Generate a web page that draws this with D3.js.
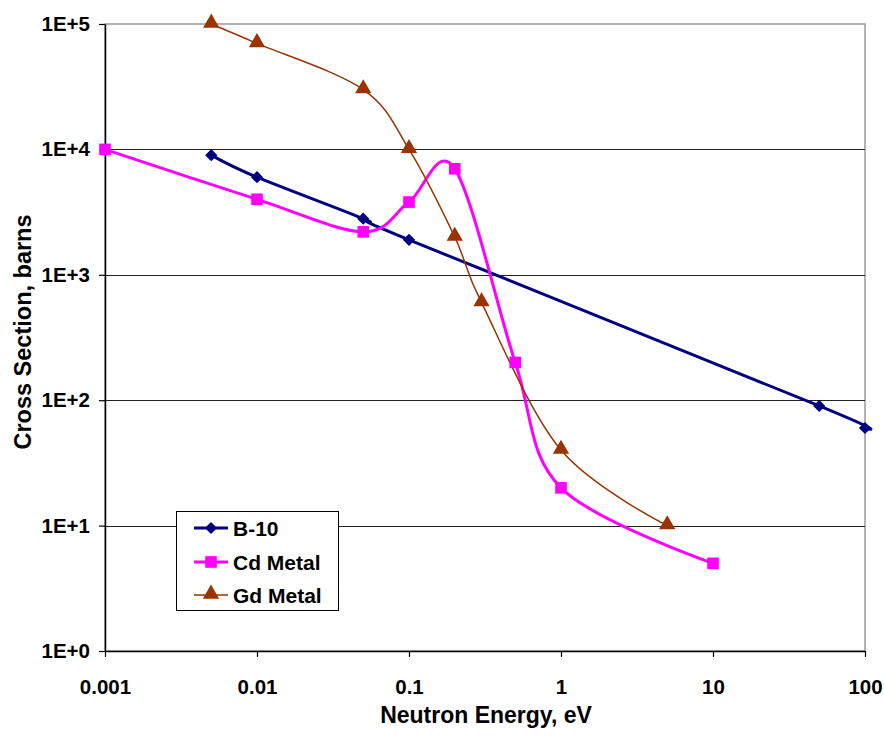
<!DOCTYPE html>
<html>
<head>
<meta charset="utf-8">
<script src="https://cdn.jsdelivr.net/npm/d3@7"></script>
<style>
  body { margin: 0; background: #fff; }
  text { font-family: "Liberation Sans", Arial, sans-serif; font-weight: bold; }
</style>
</head>
<body>
<svg></svg>
<script>
var svg = d3.select('svg');

var width = 884;
var height = 736;

var margin = { "top": 24, "right": 19, "bottom": 85, "left": 105 };

svg.attr("width", width)
   .attr("height", height);

// energy in eV, cross section in barns
var b10Energy = [0.005, 0.01, 0.05, 0.1, 50, 100];
var b10Sigma  = [9000, 6000, 2800, 1900, 90, 60];

var cdEnergy = [0.001, 0.01, 0.05, 0.1, 0.2, 0.5, 1, 10];
var cdSigma  = [10000, 4000, 2200, 3800, 7000, 200, 20, 5];

var gdEnergy = [0.005, 0.01, 0.05, 0.1, 0.2, 0.3, 1, 5];
var gdSigma  = [100000, 70000, 30000, 10000, 2000, 600, 40, 10];

var xTicks = [0.001, 0.01, 0.1, 1, 10, 100];
var xTickLabels = ["0.001", "0.01", "0.1", "1", "10", "100"];
var yTicks = [1, 10, 100, 1000, 10000, 100000];
var yTickLabels = ["1E+0", "1E+1", "1E+2", "1E+3", "1E+4", "1E+5"];

var series = [
  { name: "B-10", x: b10Energy, y: b10Sigma, color: "#000080", width: 3, marker: "diamond" },
  { name: "Cd Metal", x: cdEnergy, y: cdSigma, color: "#FF00FF", width: 3, marker: "square" },
  { name: "Gd Metal", x: gdEnergy, y: gdSigma, color: "#993300", width: 1.5, marker: "triangle" }
];

var scaleX = d3.scaleLog()
               .domain([0.001, 100])
               .range([margin.left, width - margin.right]);

var scaleY = d3.scaleLog()
               .domain([1, 100000])
               .range([height - margin.bottom, margin.top]);

var plotW = width - margin.right - margin.left;
var plotH = height - margin.bottom - margin.top;

// plot frame (top / right grey)
svg.append("rect")
   .attr("x", margin.left)
   .attr("y", margin.top)
   .attr("width", plotW)
   .attr("height", plotH)
   .attr("fill", "none")
   .attr("stroke", "#999")
   .attr("stroke-width", 1.5);

// horizontal gridlines
svg.append("g")
   .selectAll("line")
   .data(yTicks.slice(1, 5))
   .enter()
   .append("line")
   .attr("x1", margin.left)
   .attr("x2", width - margin.right)
   .attr("y1", function(d) { return Math.round(scaleY(d)) + 0.5 })
   .attr("y2", function(d) { return Math.round(scaleY(d)) + 0.5 })
   .attr("stroke", "#222")
   .attr("stroke-width", 1);

// axes
var xAxis = d3.axisBottom(scaleX)
              .tickValues(xTicks)
              .tickFormat(function(d, i) { return xTickLabels[i] })
              .tickSizeInner(6)
              .tickSizeOuter(0)
              .tickPadding(22);

var yAxis = d3.axisLeft(scaleY)
              .tickValues(yTicks)
              .tickFormat(function(d, i) { return yTickLabels[i] })
              .tickSizeInner(6)
              .tickSizeOuter(0)
              .tickPadding(9);

var gx = svg.append("g")
            .attr("transform", "translate(0," + (height - margin.bottom) + ")")
            .call(xAxis);

var gy = svg.append("g")
            .attr("transform", "translate(" + margin.left + ",0)")
            .call(yAxis);

[gx, gy].forEach(function(g) {
  g.select(".domain").attr("stroke", "#000").attr("stroke-width", 1.5);
  g.selectAll(".tick line").attr("stroke", "#000").attr("stroke-width", 1.2);
  g.selectAll(".tick text")
   .attr("fill", "#000")
   .style("font-size", "20.5px")
   .style("font-family", "'Liberation Sans', Arial, sans-serif")
   .style("font-weight", "bold");
});

// axis titles
svg.append("text")
   .attr("x", 486)
   .attr("y", 723)
   .attr("text-anchor", "middle")
   .style("font-size", "23px")
   .text("Neutron Energy, eV");

svg.append("text")
   .attr("transform", "translate(31,332) rotate(-90)")
   .attr("text-anchor", "middle")
   .style("font-size", "23.5px")
   .text("Cross Section, barns");

// smoothed lines
var line = d3.line()
             .x(function(d) { return scaleX(d[0]) })
             .y(function(d) { return scaleY(d[1]) })
             .curve(d3.curveCatmullRom.alpha(0));

function points(s) {
  return s.x.map(function(v, i) { return [v, s.y[i]] });
}

function markerPath(type) {
  if (type == "diamond") return d3.symbol().type(d3.symbolDiamond2).size(95)();
  if (type == "square") return d3.symbol().type(d3.symbolSquare).size(135)();
  return d3.symbol().type(d3.symbolTriangle).size(115)();
}

var order = [0, 1, 2];
order.forEach(function(k) {
  var s = series[k];
  svg.append("path")
     .datum(points(s))
     .attr("d", line)
     .attr("fill", "none")
     .attr("stroke", s.color)
     .attr("stroke-width", s.width);
});

order.forEach(function(k) {
  var s = series[k];
  svg.append("g")
     .selectAll("path")
     .data(points(s))
     .enter()
     .append("path")
     .attr("d", markerPath(s.marker))
     .attr("transform", function(d) {
       var dy = s.marker == "triangle" ? -1 : 0;
       return "translate(" + scaleX(d[0]) + "," + (scaleY(d[1]) + dy) + ")";
     })
     .attr("fill", s.color);
});

// legend
var legend = svg.append("g");

legend.append("rect")
      .attr("x", 176.5)
      .attr("y", 511.5)
      .attr("width", 162)
      .attr("height", 99)
      .attr("fill", "#fff")
      .attr("stroke", "#000")
      .attr("stroke-width", 1);

var legendY = [528, 562, 595];

series.forEach(function(s, i) {
  legend.append("line")
        .attr("x1", 194)
        .attr("x2", 228)
        .attr("y1", legendY[i])
        .attr("y2", legendY[i])
        .attr("stroke", s.color)
        .attr("stroke-width", s.width);
  legend.append("path")
        .attr("d", markerPath(s.marker))
        .attr("transform", "translate(211," + (legendY[i] + (s.marker == "triangle" ? -1 : 0)) + ")")
        .attr("fill", s.color);
  legend.append("text")
        .attr("x", 233)
        .attr("y", legendY[i] + 7.5)
        .style("font-size", "21px")
        .text(s.name);
});
</script>
</body>
</html>
